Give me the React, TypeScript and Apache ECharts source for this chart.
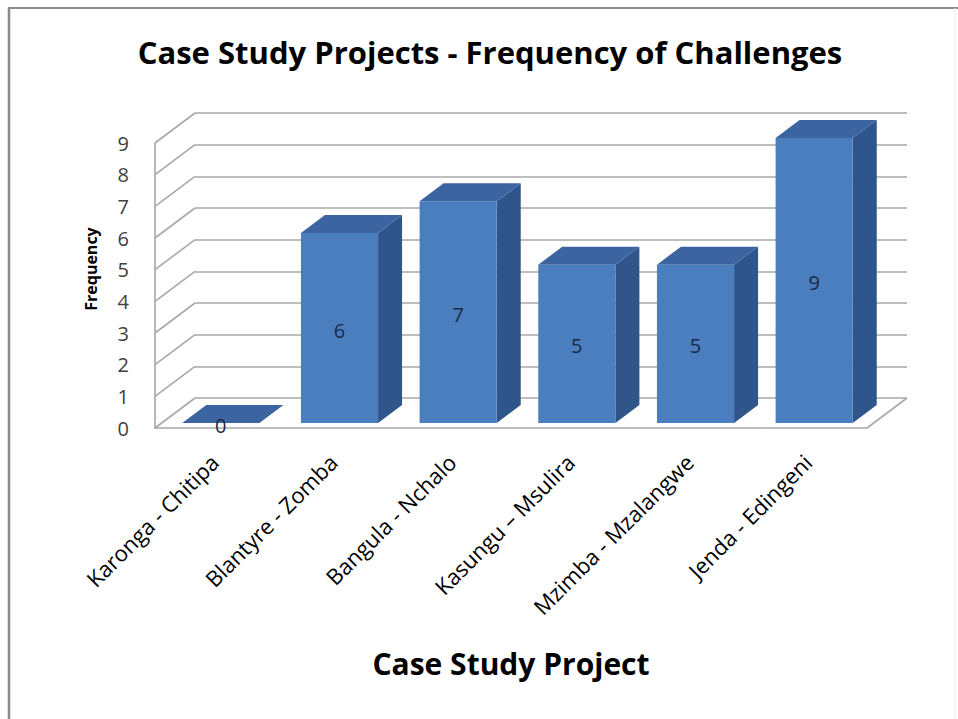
import React, { useEffect, useRef } from "react";
import * as echarts from "echarts";

// Case study projects and how often each ran into challenges
const categories = [
  "Karonga - Chitipa",
  "Blantyre - Zomba",
  "Bangula - Nchalo",
  "Kasungu – Msulira",
  "Mzimba - Mzalangwe",
  "Jenda - Edingeni",
];
const frequencies = [0, 6, 7, 5, 5, 9];

// Value axis
const yMin = 0;
const yMax = 9;
const yInterval = 1;
const yTicks = [0, 1, 2, 3, 4, 5, 6, 7, 8, 9];

const FONT = "'Open Sans', Lato, sans-serif";

// Front plane of the 3D box and the depth vector to its back wall
const FRONT = { left: 155, right: 91, top: 143, bottom: 291 };
const WALL_DEPTH = { dx: 40, dy: -30 };
// Bars sit a little behind the front plane and have their own depth
const BAR_SHIFT = { dx: 6.5, dy: -5 };
const BAR_DEPTH = { dx: 24, dy: -18 };
const BAR_WIDTH_RATIO = 0.65;

const COLORS = {
  front: "#4a7ebf",
  side: "#2f558b",
  top: "#3b64a1",
  grid: "#a8a8a8",
  label: "#1b2a47",
};

export default function App() {
  const ref = useRef<HTMLDivElement>(null);

  useEffect(() => {
    if (!ref.current) return;
    const chart = echarts.init(ref.current, undefined, { renderer: "svg" });

    const wallRender = (params: any, api: any) => {
      const band = api.size([1, 0])[0];
      const children: any[] = [];
      const lineStyle = { stroke: COLORS.grid, lineWidth: 1.6 };
      // left wall: diagonal lines joining each front tick to the back wall
      yTicks.forEach((v) => {
        const p = api.coord([0, v]);
        const x0 = p[0] - band / 2;
        children.push({
          type: "line",
          shape: { x1: x0, y1: p[1], x2: x0 + WALL_DEPTH.dx, y2: p[1] + WALL_DEPTH.dy },
          style: lineStyle,
        });
      });
      // right edge of the floor
      const last = api.coord([categories.length - 1, 0]);
      const xr = last[0] + band / 2;
      children.push({
        type: "line",
        shape: { x1: xr, y1: last[1], x2: xr + WALL_DEPTH.dx, y2: last[1] + WALL_DEPTH.dy },
        style: lineStyle,
      });
      return { type: "group", children };
    };

    const barRender = (params: any, api: any) => {
      const idx = api.value(0);
      const v = api.value(1);
      const base = api.coord([idx, 0]);
      const top = api.coord([idx, v]);
      const band = api.size([1, 0])[0];
      const w = band * BAR_WIDTH_RATIO;
      const xl = base[0] - w / 2 + BAR_SHIFT.dx;
      const xr = xl + w;
      const yb = base[1] + BAR_SHIFT.dy;
      const yt = top[1] + BAR_SHIFT.dy;
      const { dx, dy } = BAR_DEPTH;
      const children: any[] = [];
      if (yb - yt > 0) {
        children.push({
          type: "polygon",
          shape: { points: [[xr, yt], [xr + dx, yt + dy], [xr + dx, yb + dy], [xr, yb]] },
          style: { fill: COLORS.side },
        });
        children.push({
          type: "rect",
          shape: { x: xl, y: yt, width: w, height: yb - yt },
          style: { fill: COLORS.front },
        });
      }
      children.push({
        type: "polygon",
        shape: { points: [[xl, yt], [xl + dx, yt + dy], [xr + dx, yt + dy], [xr, yt]] },
        style: { fill: COLORS.top },
      });
      children.push({
        type: "text",
        style: {
          text: String(v),
          x: (xl + xr) / 2,
          y: (yt + yb) / 2 + 2,
          align: "center",
          verticalAlign: "middle",
          textAlign: "center",
          textVerticalAlign: "middle",
          fill: COLORS.label,
          font: `20px ${FONT}`,
        },
      });
      return { type: "group", children };
    };

    chart.setOption({
      animation: false,
      backgroundColor: "#ffffff",
      title: {
        text: "Case Study Projects - Frequency of Challenges",
        left: 485,
        top: 31,
        textAlign: "center",
        textStyle: { fontFamily: FONT, fontWeight: "bold", fontSize: 31, color: "#000" },
      },
      grid: [
        {
          left: FRONT.left,
          right: FRONT.right,
          top: FRONT.top,
          bottom: FRONT.bottom,
        },
        {
          left: FRONT.left + WALL_DEPTH.dx,
          right: FRONT.right - WALL_DEPTH.dx,
          top: FRONT.top + WALL_DEPTH.dy,
          bottom: FRONT.bottom - WALL_DEPTH.dy,
        },
      ],
      xAxis: [
        {
          type: "category",
          gridIndex: 0,
          data: categories,
          axisTick: { show: false },
          axisLine: { show: true, lineStyle: { color: COLORS.grid, width: 1.6 } },
          axisLabel: {
            rotate: 45,
            margin: 30,
            interval: 0,
            fontFamily: FONT,
            fontSize: 22,
            color: "#000",
          },
          name: "Case Study Project",
          nameLocation: "middle",
          nameGap: 220,
          nameTextStyle: { fontFamily: FONT, fontWeight: "bold", fontSize: 30, color: "#000" },
        },
        {
          type: "category",
          gridIndex: 1,
          data: categories,
          show: false,
        },
      ],
      yAxis: [
        {
          type: "value",
          gridIndex: 0,
          min: yMin,
          max: yMax,
          interval: yInterval,
          axisLine: { show: true, lineStyle: { color: COLORS.grid, width: 1.6 } },
          axisTick: { show: false },
          splitLine: { show: false },
          axisLabel: { margin: 26, fontFamily: FONT, fontSize: 20, color: "#404040" },
        },
        {
          type: "value",
          gridIndex: 1,
          min: yMin,
          max: yMax,
          interval: yInterval,
          axisLine: { show: false },
          axisTick: { show: false },
          axisLabel: { show: false },
          splitLine: { show: true, lineStyle: { color: COLORS.grid, width: 1.6 } },
        },
      ],
      graphic: [
        {
          type: "text",
          x: 91,
          y: 269,
          rotation: Math.PI / 2,
          style: {
            text: "Frequency",
            font: `bold 16px ${FONT}`,
            fill: "#000",
            align: "center",
            verticalAlign: "middle",
          },
        },
        {
          type: "line",
          shape: { x1: 8, y1: 8, x2: 958, y2: 8 },
          style: { stroke: "#8c8c8c", lineWidth: 2 },
        },
        {
          type: "line",
          shape: { x1: 9, y1: 8, x2: 9, y2: 719 },
          style: { stroke: "#8c8c8c", lineWidth: 2.5 },
        },
        {
          type: "line",
          shape: { x1: 955, y1: 8, x2: 955, y2: 719 },
          style: { stroke: "#ececec", lineWidth: 1 },
        },
      ],
      series: [
        {
          type: "custom",
          xAxisIndex: 0,
          yAxisIndex: 0,
          z: 1,
          silent: true,
          renderItem: wallRender,
          data: [[0, 0]],
        },
        {
          type: "custom",
          xAxisIndex: 0,
          yAxisIndex: 0,
          z: 3,
          renderItem: barRender,
          data: frequencies.map((f, i) => [i, f]),
        },
      ],
    });

    return () => chart.dispose();
  }, []);

  return (
    <div
      ref={ref}
      style={{ position: "fixed", left: 0, top: 0, width: 958, height: 719, background: "#fff" }}
    />
  );
}
